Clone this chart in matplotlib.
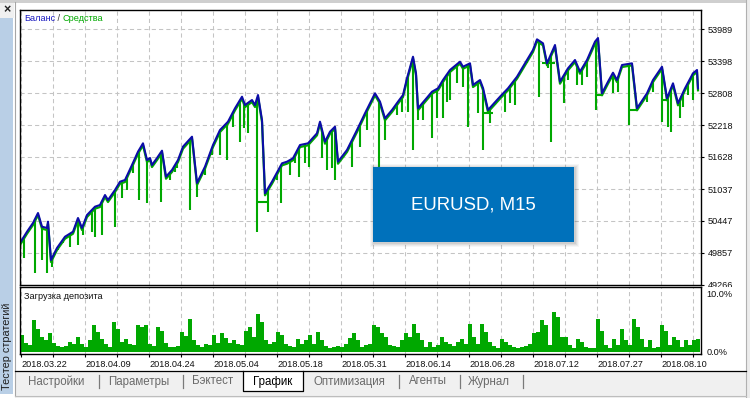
import numpy as np
import matplotlib
matplotlib.use('Agg')
import matplotlib.pyplot as plt
from matplotlib.patches import Rectangle
from matplotlib.lines import Line2D
from matplotlib.offsetbox import TextArea, HPacker, AnchoredOffsetbox
from matplotlib.transforms import offset_copy, Bbox, TransformedBbox

plt.rcParams['font.family'] = ['Liberation Sans', 'DejaVu Sans']

# balance curve (x = trade index along the chart)
bal_x = [0, 7, 13, 18, 22, 27, 28, 31, 37, 45, 53, 58, 62, 67, 75, 80, 85, 88, 95, 100,
         105, 112, 118, 123, 127, 130, 132, 137, 142, 146, 152, 158, 163, 172, 177, 185, 193, 200, 208, 215,
         222, 225, 232, 235, 238, 242, 245, 252, 262, 267, 273, 280, 288, 297, 300, 305, 310, 315, 318, 327,
         337, 345, 355, 360, 365, 372, 378, 383, 387, 393, 396, 398, 405, 412, 418, 423, 430, 440, 443, 450,
         453, 460, 463, 468, 477, 480, 488, 497, 505, 513, 517, 523, 527, 535, 540, 548, 555, 560, 567, 575,
         578, 582, 588, 593, 597, 602, 612, 617, 627, 633, 642, 647, 653, 658, 665, 673, 677, 678]
bal_y = [50041, 50249, 50410, 50594, 50342, 50318, 50434, 49727, 49949, 50157, 50249, 50502, 50318, 50557, 50711, 50742, 50926, 50834, 51019, 51172,
         51203, 51480, 51725, 51880, 51572, 51609, 51480, 51609, 51744, 51264, 51388, 51572, 51818, 52002, 51148, 51449, 51849, 52126, 52279, 52526,
         52740, 52587, 52679, 52587, 52771, 52310, 50958, 51172, 51511, 51541, 51604, 51849, 51880, 52065, 52279, 51910, 52094, 52187, 51541, 51757,
         52126, 52434, 52803, 52648, 52341, 52495, 52648, 52771, 53079, 53478, 53172, 52526, 52679, 52832, 52895, 53048, 53233, 53386, 53293, 53356,
         52956, 53048, 52901, 52495, 52679, 52740, 52895, 53109, 53356, 53602, 53799, 53725, 53356, 53694, 53017, 53264, 53417, 53201, 53417, 53755,
         53823, 52803, 53017, 53183, 53048, 53325, 53356, 52526, 52803, 53048, 53293, 52710, 52987, 52618, 52895, 53172, 53233, 52895]

# equity dips below balance
dip_x = [4, 15, 22, 27, 32, 38, 50, 58, 75, 82, 95, 102, 119, 127, 141, 155, 170, 177, 200, 207,
         220, 228, 237, 248, 261, 270, 279, 289, 302, 307, 315, 332, 359, 365, 393, 398, 412, 423, 430, 448,
         463, 470, 485, 495, 519, 531, 544, 576, 609, 642, 651, 663, 673,
         43, 63, 72, 107, 113, 150, 157, 185, 192, 213, 224, 257, 275, 285, 312, 323, 340, 347, 377, 382,
         388, 403, 417, 427, 437, 443, 458, 475, 490, 507, 528, 548, 557, 562, 567, 593, 598, 627, 633, 648,
         660, 668]
dip_y = [49764, 49487, 49727, 49487, 49604, 49912, 49973, 50004, 50157, 50188, 50342, 50871, 50834, 50773, 50803, 51356, 50650, 50895, 51664, 51572,
         51910, 52065, 50249, 50618, 50773, 51295, 51264, 51449, 51603, 51388, 51203, 51449, 51449, 51941, 51757, 52310, 51972, 52341, 52679, 52186,
         51757, 52249, 52463, 52587, 52740, 51910, 52618, 52495, 52218, 52279, 52094, 52555, 52679,
         50035, 50188, 50249, 51019, 51332, 51203, 51424, 51295, 51664, 52186, 52162, 51203, 51517, 51517, 51424, 51633, 51817, 52126, 52402, 52463,
         52463, 52310, 52341, 52648, 52987, 52924, 52434, 52587, 52618, 53356, 53264, 53048, 52956, 52956, 53109, 52803, 52832, 52648, 52832, 52186,
         52341, 52771]

# flat equity stretches (open trades)
flat_x0 = [238, 463, 522, 577, 610, 642]
flat_x1 = [247, 473, 535, 583, 617, 647]
flat_y = [50802, 52434, 53356, 52771, 52495, 52679]

# deposit load, %
load = [2.9, 1.6, 1.2, 5.5, 3.9, 2.6, 2.0, 3.2, 1.5, 1.0,
        0.9, 1.1, 1.7, 1.3, 2.6, 1.4, 0.9, 2.0, 4.6, 3.5,
        2.3, 1.4, 0.8, 5.2, 4.0, 1.7, 2.3, 1.4, 1.2, 4.6,
        4.3, 4.6, 1.4, 1.0, 4.3, 3.7, 1.6, 0.9, 0.8, 1.0,
        3.4, 2.8, 5.7, 2.0, 1.2, 0.9, 1.4, 1.2, 2.9, 1.5,
        3.2, 2.4, 1.6, 2.0, 1.4, 1.2, 3.7, 4.3, 2.5, 6.6,
        5.2, 2.0, 1.4, 1.8,
        3.4, 3.0, 1.4, 1.0, 0.9, 2.3, 1.4, 2.0, 2.9, 1.4,
        3.4, 2.0, 1.0, 0.6, 0.8, 1.1, 0.9, 1.4, 2.4, 3.2,
        2.0, 0.9, 1.2, 1.4, 4.6, 4.3, 3.2, 2.6, 1.2, 1.0,
        0.9, 2.0, 3.2, 2.6, 4.9, 3.2, 2.0, 0.9, 1.7, 0.9,
        1.2, 2.6, 1.7, 1.4, 1.0, 1.7, 2.3, 1.4, 4.9, 2.6,
        1.4, 4.9, 3.4, 1.7, 1.0, 0.6, 2.3, 1.7, 1.2, 0.9,
        0.6, 0.8, 1.1, 1.4, 3.2, 3.4, 5.5, 4.6, 1.2, 6.9,
        6.0, 2.6, 2.6, 1.2, 0.6, 2.3, 1.7, 0.9, 0.6, 0.6,
        5.7, 3.7, 1.2, 0.6, 2.3, 1.2, 4.0, 2.0, 1.2, 5.7,
        4.3, 2.3, 0.9, 2.0, 0.6, 0.9, 4.6, 3.7, 1.2, 2.6,
        2.0, 0.9, 2.0, 1.2, 2.0, 2.3]

y_ticks = [49266, 49857, 50447, 51037, 51628, 52218, 52808, 53398, 53989]
dates = ['2018.03.22', '2018.04.09', '2018.04.24', '2018.05.04', '2018.05.18', '2018.05.31',
         '2018.06.14', '2018.06.28', '2018.07.12', '2018.07.27', '2018.08.10']
tabs = ['Настройки', 'Параметры', 'Бэктест', 'График', 'Оптимизация', 'Агенты', 'Журнал']

BLUE = '#0c0ca8'
GREEN = '#00a800'
GRID = '#c4c4c4'
W, H = 750, 398


def rect(x0, y0, x1, y1, **kw):
    r = Rectangle((x0 / W, 1 - y1 / H), (x1 - x0) / W, (y1 - y0) / H,
                  transform=fig.transFigure, **kw)
    fig.add_artist(r)


def pline(xs, ys, **kw):
    fig.add_artist(Line2D([x / W for x in xs], [1 - y / H for y in ys],
                          transform=fig.transFigure, **kw))


fig = plt.figure(figsize=(7.5, 3.98), dpi=100)
fig.patch.set_facecolor('white')

ax = fig.add_axes([20 / W, 1 - 285 / H, 681 / W, 275 / H])
ax2 = fig.add_axes([20 / W, 1 - 354 / H, 681 / W, 67 / H])

grid_x = np.arange(1, 681, 32)

############ balance / equity ############
eq_tr = offset_copy(ax.transData, fig=fig, x=0, y=-2, units='dots')
ax.plot(bal_x, bal_y, color=GREEN, lw=1.6, transform=eq_tr)
tops = np.interp(dip_x, bal_x, bal_y)
ax.vlines(dip_x, dip_y, tops, color=GREEN, lw=1.5)
ax.hlines(flat_y, flat_x0, flat_x1, color=GREEN, lw=1.5)
ax.plot(bal_x, bal_y, color=BLUE, lw=1.5)

ax.set_xlim(0, 681)
ax.set_ylim(49266, 54340)
ax.set_xticks(grid_x)
ax.set_yticks(y_ticks, labels=[str(v) for v in y_ticks])
ax.yaxis.tick_right()
ax.tick_params(axis='x', length=0, labelbottom=False)
ax.tick_params(axis='y', length=2.5, width=0.8, pad=2.5, labelsize=6.6, labelcolor='#111111')
ax.grid(True, color=GRID, lw=0.75, linestyle=(0, (4, 3)))
ax.set_axisbelow(True)
for s in ax.spines.values():
    s.set_linewidth(1.0)

# bottom label is half hidden by the lower panel
lb = ax.get_yticklabels()[0]
lb.set_clip_on(True)
lb.set_clip_box(TransformedBbox(Bbox([[0, 1 - 287 / H], [1, 1]]), fig.transFigure))

leg = HPacker(children=[TextArea('Баланс', textprops=dict(color='#1a1ac0', size=6.6)),
                        TextArea(' / ', textprops=dict(color='#333333', size=6.6)),
                        TextArea('Средства', textprops=dict(color=GREEN, size=6.6))],
              pad=0, sep=0)
ax.add_artist(AnchoredOffsetbox(loc='upper left', child=leg, pad=0, borderpad=0, frameon=False,
                                bbox_to_anchor=(0.006, 0.985), bbox_transform=ax.transAxes))

############ deposit load ############
ax2.bar(np.arange(2, 680, 4), load, width=3.5, color=GREEN, lw=0)
ax2.set_xlim(0, 681)
ax2.set_ylim(-0.35, 11.2)
ax2.set_xticks(grid_x, labels=[dates[i // 2] if i % 2 == 0 else '' for i in range(len(grid_x))])
for t in ax2.get_xticklabels():
    t.set_ha('left')
ax2.set_yticks([0, 10], labels=['0.0%', '10.0%'])
ax2.yaxis.tick_right()
ax2.tick_params(axis='x', length=2.5, width=0.8, pad=1.5, labelsize=6.6, labelcolor='#111111')
ax2.tick_params(axis='y', length=0, pad=4, labelsize=6.6, labelcolor='#111111')
ax2.grid(True, axis='x', color=GRID, lw=0.75, linestyle=(0, (4, 3)))
ax2.set_axisbelow(True)
for s in ax2.spines.values():
    s.set_linewidth(1.0)
ax2.text(0.006, 0.93, 'Загрузка депозита', transform=ax2.transAxes, va='top', size=6.6, color='#111111')

############ symbol box ############
for k, a in [(4, 0.05), (3, 0.07), (2, 0.09), (1, 0.12)]:
    rect(373 - k + 1, 167 - k + 1, 574 + k + 1, 242 + k + 1, color='#606060', alpha=a, lw=0, zorder=9)
rect(373, 167, 574, 242, color='#0071bb', lw=0, zorder=10)
fig.text(473.5 / W, 1 - 204.5 / H, 'EURUSD, M15', color='white', size=13.4,
         ha='center', va='center', zorder=11)

############ window chrome ############
rect(0, 0, W, 2.5, color='#cfcfcf', lw=0)
rect(746, 0, W, H, color='#ececec', lw=0)
pline([746, 746], [0, H], color='#b0b0b0', lw=0.8)
rect(0, 2.5, 14, 18, color='#f0f0f0', lw=0)
rect(0, 18, 13.5, 394, color='#b9cfe6', lw=0)
pline([14.5, 14.5], [2, 396], color='#a6a6a6', lw=0.8)
fig.text(7 / W, 1 - 10.5 / H, '×', size=9, weight='bold', ha='center', va='center', color='#222222')
fig.text(7.5 / W, 1 - 346 / H, 'Тестер стратегий', rotation=90, size=7.8,
         ha='center', va='center', color='#1e1e1e')

# tab bar
rect(15, 371, 746, 398, color='#f0f0f0', lw=0)
pline([15, 746], [395.5, 395.5], color='#bdbdbd', lw=0.8)
pline([15, 746], [371, 371], color='black', lw=0.9)
rect(243, 371, 303, 391, facecolor='white', edgecolor='none')
pline([243, 243, 303, 303], [371, 391, 391, 371], color='black', lw=0.9)
tab_x = [28, 108, 192, 253, 314, 409, 468]
for name, x in zip(tabs, tab_x):
    col = 'black' if name == 'График' else '#6a6a6a'
    fig.text(x / W, 1 - 381.5 / H, name, size=8.3, color=col, va='center', ha='left')
for x in [99, 183, 399, 460, 523]:
    pline([x, x], [375, 388], color='#7a7a7a', lw=0.9)

fig.savefig('out.png', dpi=100)
